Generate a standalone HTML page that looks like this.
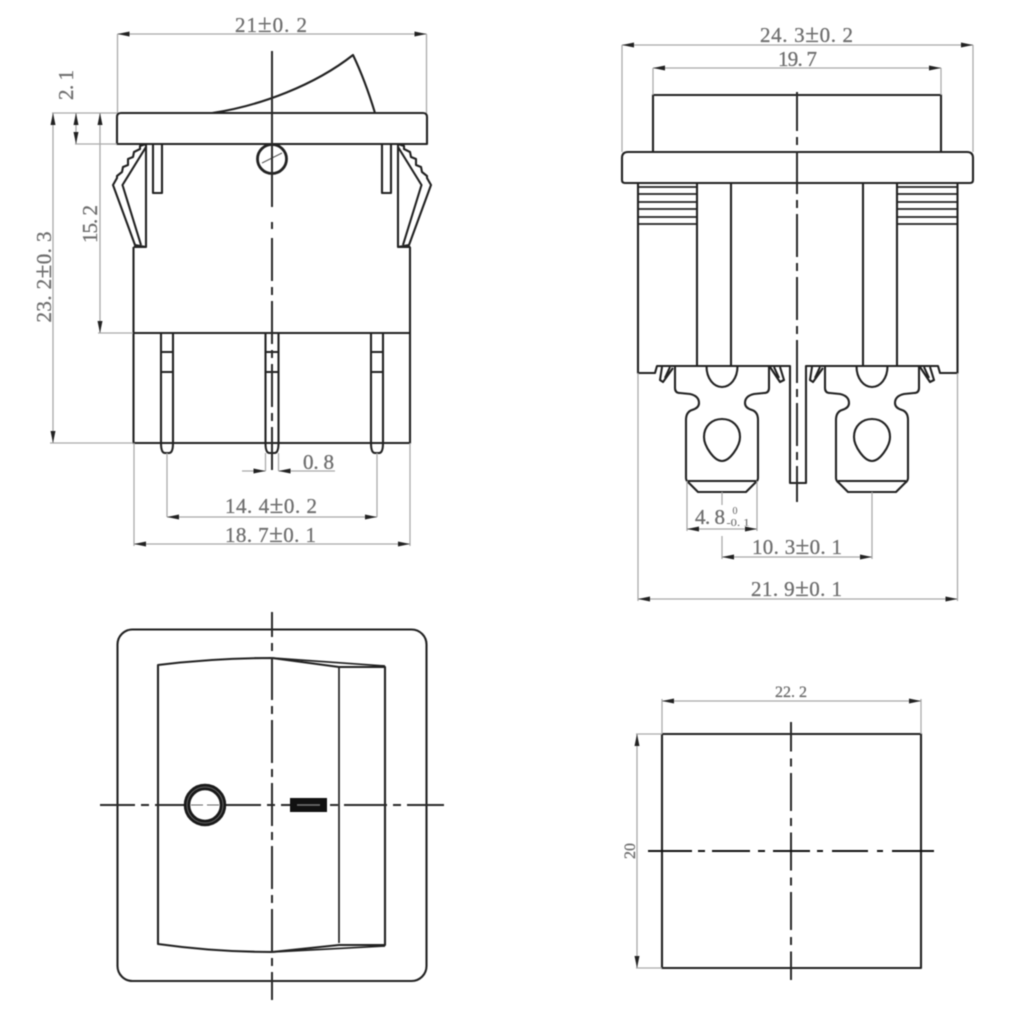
<!DOCTYPE html>
<html><head><meta charset="utf-8"><style>
html,body{margin:0;padding:0;background:#fff}
svg{display:block;filter:blur(.6px)}
.m{fill:none;stroke:#222;stroke-width:2.100;stroke-linejoin:round}
.c{fill:none;stroke:#2a2a2a;stroke-width:2}
.d{fill:none;stroke:#aaa;stroke-width:1.300}
.a{fill:none;stroke:#a8a8a8;stroke-width:1.300;marker-start:url(#ar);marker-end:url(#ar)}
.e{fill:none;stroke:#a8a8a8;stroke-width:1.300;marker-end:url(#ar)}
.s{fill:none;stroke:#a8a8a8;stroke-width:1.300;marker-start:url(#ar)}
text{font-family:"Liberation Serif",serif;font-size:21px;fill:#6e6e6e;stroke:#6e6e6e;stroke-width:.3;text-anchor:middle}
tspan{font-size:25px}
</style></head><body>
<svg xmlns="http://www.w3.org/2000/svg" width="1024" height="1024" viewBox="0 0 1024 1024">
<defs>
<marker id="ar" markerUnits="userSpaceOnUse" markerWidth="14" markerHeight="6" refX="12" refY="3" orient="auto-start-reverse" overflow="visible"><path d="M0,.5 L12,3 L0,5.500z" fill="#222"/></marker>
<g id="snap" class="m">
<path d="M146,144 L140,146 L140,149 L134,152 L133,157 L128,159 L128,165 L123,167 L122,172 L117,176 L117,178 L113,185 L135,245 L146,247"/>
<path d="M146,147 L122.500,185 L141,245"/>
<path d="M146,144 V247 H133.500"/>
<path d="M153,144 V193 H162 V144"/>
</g>
<g id="term" class="m">
<path d="M-47,0 L-47,22 Q-47,27 -42,27 L-32,28 Q-23,30 -23,37 Q-23,42 -30,44 Q-36,46 -36,54 L-36,112 Q-36,115 -33,117 L-24,126 L24,126 L33,117 Q36,115 36,112 L36,54 Q36,46 30,44 Q23,42 23,37 Q23,30 32,28 L42,27 Q47,27 47,22 L47,0"/>
<path d="M-34,115 H34"/>
<path d="M-15.500,0 C-15.500,13 -8,21 0,21 C8,21 15.500,13 15.500,0"/>
<path d="M0,53 C10,53 18,60 18,71 C18,80 8,95 0,95 C-8,95 -18,80 -18,71 C-18,60 -10,53 0,53z"/>
<path d="M-60,1 L-62,14 L-59,16 L-49,2 M-52,1 L-57,12 M48,1 L58,16 L62,14 L58,1 M52,1 L57,12"/>
</g>
</defs>

<!-- front view -->
<path class="m" d="M117,144 V117 Q117,113 121,113 H423 Q427,113 427,117 V144 Z"/>
<path class="m" d="M212,113 C260,106 315,85 353,55 Q365,80 375,113"/>
<circle class="m" cx="272" cy="159" r="14.500" style="stroke-width:2.800"/>
<path d="M262,163 L282,153" stroke="#555" fill="none" stroke-width="1"/>
<use href="#snap"/>
<g transform="matrix(-1 0 0 1 544 0)"><use href="#snap"/></g>
<path class="m" d="M133.500,247 V443 H410 V247 M133.500,333 H410 M410,247 H398"/>
<path class="m" d="M161,333 V443 Q161,453 165,453 H169 Q173,453 173,443 V333 M161,352 H173 M161,372 H173"/>
<path class="m" d="M265.500,333 V443 Q265.500,453 269.500,453 H274.500 Q278.500,453 278.500,443 V333 M265.500,352 H278.500 M265.500,372 H278.500"/>
<path class="m" d="M371,333 V443 Q371,453 375,453 H379 Q383,453 383,443 V333 M371,352 H383 M371,372 H383"/>
<path class="c" d="M272,51 V207 M272,222 V229"/>
<path class="c" d="M272,238 V470" stroke-dasharray="43 6 8 6"/>

<!-- front dims -->
<path class="d" d="M117.500,34 V113 M426.500,34 V113 M52,113 H117 M75,144 H117 M98,333 H133 M50,443 H133 M167,453 V517 M377,453 V517 M134,443 V546 M410,443 V546 M265.500,453 V471 M278.500,453 V471"/>
<path class="a" d="M117.500,34 H426.500"/>
<path class="a" d="M76,113 V144"/>
<path class="a" d="M100,113 V333"/>
<path class="a" d="M53,113 V443"/>
<path class="e" d="M242,471 H265.500"/>
<path class="s" d="M278.500,471 H335"/>
<path class="a" d="M167,517 H377"/>
<path class="a" d="M134,544 H410"/>
<text x="271" y="32" textLength="72" lengthAdjust="spacing">21<tspan>±</tspan>0. 2</text>
<text transform="translate(73,85) rotate(-90)" textLength="30" lengthAdjust="spacing">2. 1</text>
<text transform="translate(97,224) rotate(-90)" textLength="38" lengthAdjust="spacing">15. 2</text>
<text transform="translate(51,277) rotate(-90)" textLength="91" lengthAdjust="spacing">23. 2<tspan>±</tspan>0. 3</text>
<text x="318.500" y="469" textLength="31" lengthAdjust="spacing">0. 8</text>
<text x="271" y="513" textLength="92" lengthAdjust="spacing">14. 4<tspan>±</tspan>0. 2</text>
<text x="270.500" y="542" textLength="91" lengthAdjust="spacing">18. 7<tspan>±</tspan>0. 1</text>

<!-- side view -->
<path class="m" d="M653,152 V95 H941 V152"/>
<path class="m" d="M628,152 H967 Q973,152 973,158 V180 Q973,183 970,183 H625 Q622,183 622,180 V158 Q622,152 628,152z"/>
<path class="m" d="M638,183 V373 H655 L657,366 H790 V483 H806 V366 H938 L940,373 H957.500 V183"/>
<path class="m" d="M697,183 V366 M731,183 V366 M863,183 V366 M897,183 V366"/>
<path class="m" d="M638,187 H697 M638,194 H697 M638,202 H697 M638,209 H697 M638,217 H697 M638,224 H697 M897,187 H957 M897,194 H957 M897,202 H957 M897,209 H957 M897,217 H957 M897,224 H957" style="stroke-width:1.700"/>
<use href="#term" x="722" y="366"/>
<use href="#term" x="872" y="366"/>
<path class="c" d="M797,92 V502" stroke-dasharray="43 6 8 6" stroke-dashoffset="4"/>

<!-- side dims -->
<path class="d" d="M622,45 V152 M973,45 V152 M653,68 V95 M941,68 V95 M638,373 V601 M957.500,373 V601 M687,481 V531 M757,481 V531 M722,492 V505 M722,536 V559 M872,492 V559"/>
<path class="a" d="M622,45 H973"/>
<path class="a" d="M653,68 H941"/>
<path class="a" d="M687,529 H757"/>
<path class="a" d="M722,557 H872"/>
<path class="a" d="M638,599 H957.500"/>
<text x="806.500" y="42" textLength="93" lengthAdjust="spacing">24. 3<tspan>±</tspan>0. 2</text>
<text x="797.500" y="66" textLength="39" lengthAdjust="spacing">19. 7</text>
<text x="710" y="524" textLength="30" lengthAdjust="spacing">4. 8</text>
<text x="735" y="514" style="font-size:10px;stroke-width:.1">0</text>
<text x="738" y="526" style="font-size:10px;stroke-width:.1" textLength="23" lengthAdjust="spacingAndGlyphs">-0. 1</text>
<text x="797" y="554" textLength="90" lengthAdjust="spacing">10. 3<tspan>±</tspan>0. 1</text>
<text x="796.500" y="596" textLength="91" lengthAdjust="spacing">21. 9<tspan>±</tspan>0. 1</text>

<!-- top view -->
<rect class="m" x="117.500" y="629.500" width="309" height="351.500" rx="15" ry="15"/>
<path class="m" d="M158,665 Q215,658 272,658 L339,667 H385 V945 H339 L272,952 Q215,952 158,944 Z"/>
<path class="m" d="M272,658 L385,666 M272,952 L385,946 M339,667 V943" style="stroke-width:1.700"/>
<path class="c" d="M272,612 V1000" stroke-dasharray="43 6 8 6" stroke-dashoffset="18"/>
<path class="c" d="M100,805 H444" stroke-dasharray="43 6 8 6" stroke-dashoffset="8" stroke-width="1.500"/>
<circle cx="205" cy="805" r="18" fill="#fff" stroke="#1a1a1a" stroke-width="6.500"/>
<circle cx="205" cy="805" r="18" fill="none" stroke="#777" stroke-width=".8"/>
<path d="M191,805 H219" stroke="#666" stroke-width="1" stroke-dasharray="12 4"/>
<rect x="290" y="798" width="37" height="14" fill="#111"/>
<path d="M297,805 H320" stroke="#777" stroke-width="1.500"/>

<!-- bottom-right view -->
<rect class="m" x="662" y="734" width="259" height="234"/>
<path class="c" d="M791,722 V980" stroke-dasharray="38 7 8 6.500" stroke-dashoffset="8.500" stroke-width="2.200"/>
<path d="M648,851 H934" fill="none" stroke="#111" stroke-width="2" stroke-dasharray="44 6 7 7 38 8 7 8 37 7 6 9 36 9 6 9 42"/>
<path class="d" d="M662,699 V734 M921,699 V734 M636,734 H662 M636,968 H662"/>
<path class="a" d="M662,701 H921"/>
<path class="a" d="M637,734 V968"/>
<text x="791" y="697" style="font-size:16px" textLength="32" lengthAdjust="spacing">22. 2</text>
<text transform="translate(635,851) rotate(-90)" style="font-size:16px" textLength="16" lengthAdjust="spacing">20</text>
</svg>
</body></html>
